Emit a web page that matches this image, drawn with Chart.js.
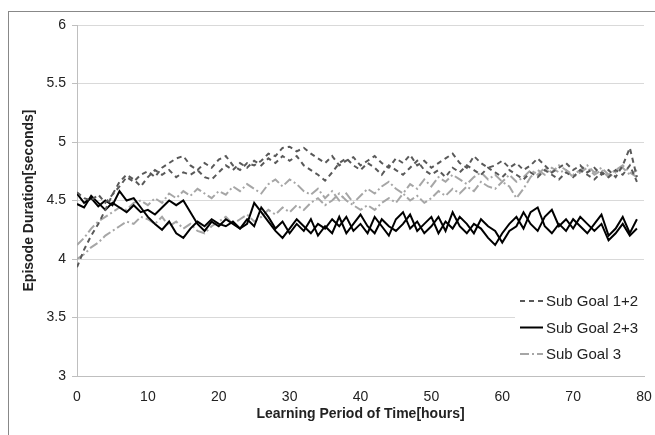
<!DOCTYPE html>
<html>
<head>
<meta charset="utf-8">
<script src="https://cdn.jsdelivr.net/npm/chart.js@4.4.0/dist/chart.umd.min.js"></script>
<style>
  html, body { margin: 0; padding: 0; background: #fff; }
  #frame { position: absolute; left: 8px; top: 11px; width: 700px; height: 500px;
           border-left: 1px solid #888; border-top: 1px solid #888; }
  #wrap { position: absolute; left: 0; top: 0; width: 655px; height: 435px; }
</style>
</head>
<body>
<div id="frame"></div>
<div id="wrap"><canvas id="grafico" width="655" height="435"></canvas></div>
<script>
// Horas de aprendizagem (eixo x)
const horas = [0,1,2,3,4,5,6,7,8,9,10,11,12,13,14,15,16,17,18,19,
  20,21,22,23,24,25,26,27,28,29,30,31,32,33,34,35,36,37,38,39,
  40,41,42,43,44,45,46,47,48,49,50,51,52,53,54,55,56,57,58,59,
  60,61,62,63,64,65,66,67,68,69,70,71,72,73,74,75,76,77,78,79];

const xTicks = [0, 10, 20, 30, 40, 50, 60, 70, 80];
const yTicks = [3, 3.5, 4, 4.5, 5, 5.5, 6];

// Sub Goal 1+2 (duas execuções)
const sg12a = [4.57,4.52,4.50,4.55,4.48,4.55,4.62,4.70,4.66,4.72,
  4.75,4.70,4.78,4.82,4.86,4.88,4.80,4.76,4.82,4.78,
  4.85,4.88,4.80,4.76,4.82,4.80,4.84,4.90,4.88,4.95,
  4.96,4.92,4.95,4.90,4.86,4.82,4.88,4.80,4.84,4.87,
  4.80,4.84,4.88,4.82,4.78,4.86,4.82,4.89,4.80,4.84,
  4.78,4.82,4.86,4.90,4.82,4.78,4.88,4.82,4.78,4.80,
  4.84,4.78,4.82,4.76,4.80,4.86,4.80,4.74,4.78,4.82,
  4.76,4.80,4.74,4.78,4.72,4.76,4.70,4.80,4.95,4.70];
const sg12b = [3.93,4.08,4.20,4.30,4.42,4.55,4.66,4.72,4.68,4.62,
  4.70,4.76,4.72,4.76,4.70,4.74,4.72,4.76,4.70,4.68,
  4.74,4.80,4.76,4.82,4.78,4.84,4.80,4.86,4.82,4.88,
  4.84,4.88,4.80,4.76,4.72,4.67,4.74,4.82,4.86,4.80,
  4.76,4.82,4.78,4.72,4.80,4.76,4.72,4.78,4.84,4.76,
  4.72,4.76,4.70,4.78,4.74,4.80,4.76,4.72,4.78,4.74,
  4.70,4.76,4.72,4.68,4.74,4.70,4.76,4.72,4.68,4.74,
  4.70,4.76,4.72,4.68,4.74,4.70,4.76,4.72,4.80,4.66];

// Sub Goal 2+3
const sg23a = [4.56,4.48,4.52,4.45,4.50,4.46,4.58,4.50,4.52,4.44,
  4.36,4.30,4.25,4.32,4.22,4.18,4.26,4.32,4.28,4.34,
  4.30,4.28,4.32,4.26,4.30,4.48,4.40,4.32,4.24,4.18,
  4.26,4.34,4.28,4.22,4.30,4.26,4.34,4.28,4.36,4.24,
  4.30,4.22,4.36,4.28,4.20,4.34,4.40,4.26,4.32,4.22,
  4.28,4.36,4.24,4.40,4.28,4.22,4.30,4.26,4.18,4.12,
  4.22,4.30,4.36,4.26,4.40,4.44,4.28,4.22,4.30,4.24,
  4.34,4.28,4.22,4.30,4.38,4.20,4.26,4.36,4.22,4.34];
const sg23b = [4.47,4.44,4.54,4.48,4.42,4.48,4.44,4.40,4.46,4.40,
  4.42,4.38,4.44,4.50,4.46,4.50,4.40,4.30,4.24,4.32,
  4.28,4.34,4.30,4.26,4.34,4.28,4.44,4.36,4.26,4.32,
  4.22,4.30,4.24,4.34,4.20,4.28,4.22,4.36,4.22,4.30,
  4.38,4.28,4.22,4.34,4.28,4.24,4.30,4.38,4.24,4.30,
  4.36,4.22,4.32,4.26,4.36,4.30,4.22,4.34,4.28,4.24,
  4.14,4.24,4.28,4.40,4.30,4.24,4.36,4.42,4.28,4.34,
  4.26,4.36,4.30,4.24,4.30,4.16,4.22,4.30,4.20,4.26];

// Sub Goal 3
const sg3a = [4.12,4.18,4.26,4.32,4.36,4.40,4.44,4.42,4.48,4.50,
  4.46,4.52,4.48,4.56,4.52,4.58,4.54,4.60,4.56,4.52,
  4.58,4.55,4.62,4.58,4.64,4.60,4.56,4.64,4.68,4.62,
  4.68,4.64,4.58,4.55,4.60,4.52,4.58,4.50,4.56,4.48,
  4.54,4.60,4.56,4.62,4.66,4.60,4.56,4.64,4.60,4.68,
  4.62,4.70,4.66,4.72,4.68,4.64,4.70,4.74,4.68,4.72,
  4.66,4.62,4.52,4.60,4.70,4.76,4.72,4.78,4.74,4.76,
  4.70,4.74,4.78,4.72,4.76,4.70,4.74,4.78,4.72,4.76];
const sg3b = [4.00,4.04,4.10,4.14,4.20,4.24,4.28,4.32,4.30,4.36,
  4.34,4.30,4.36,4.28,4.32,4.26,4.30,4.24,4.22,4.28,
  4.32,4.36,4.30,4.34,4.38,4.32,4.36,4.42,4.38,4.44,
  4.40,4.46,4.42,4.48,4.52,4.46,4.50,4.56,4.50,4.46,
  4.42,4.46,4.42,4.48,4.52,4.48,4.56,4.50,4.54,4.48,
  4.52,4.58,4.54,4.60,4.56,4.62,4.58,4.66,4.62,4.60,
  4.66,4.72,4.66,4.70,4.76,4.72,4.78,4.74,4.80,4.76,
  4.72,4.76,4.80,4.74,4.78,4.72,4.76,4.80,4.74,4.70];

const estilos = {
  'Sub Goal 1+2': { color: '#595959', dash: [5, 4] },
  'Sub Goal 2+3': { color: '#000000', dash: [] },
  'Sub Goal 3':   { color: '#a6a6a6', dash: [9, 3, 2, 3] }
};

function serie(label, valores, noLegend) {
  const e = estilos[label];
  return {
    label: label,
    data: horas.map((h, i) => ({ x: h, y: valores[i] })),
    borderColor: e.color,
    borderDash: e.dash,
    borderWidth: 2,
    pointRadius: 0,
    tension: 0,
    fill: false,
    noLegend: noLegend
  };
}

// legenda desenhada dentro da área do gráfico
const legendaInterna = {
  id: 'legendaInterna',
  afterDraw(chart) {
    const ctx = chart.ctx;
    const itens = chart.data.datasets.filter(d => !d.noLegend);
    const x0 = 515, y0 = 286, w = 129, h = 82;
    ctx.save();
    ctx.fillStyle = '#fff';
    ctx.fillRect(x0, y0, w, h);
    ctx.font = '15px "Liberation Sans", Arial, sans-serif';
    ctx.textBaseline = 'middle';
    itens.forEach((d, i) => {
      const y = 301 + i * 26.5;
      ctx.beginPath();
      ctx.strokeStyle = d.borderColor;
      ctx.lineWidth = 2;
      ctx.setLineDash(d.borderDash);
      ctx.moveTo(520, y);
      ctx.lineTo(543, y);
      ctx.stroke();
      ctx.setLineDash([]);
      ctx.fillStyle = '#222';
      ctx.fillText(d.label, 546, y + 1);
    });
    ctx.restore();
  }
};

const fonte = '"Liberation Sans", Arial';

document.addEventListener('DOMContentLoaded', () => {
  const ctx = document.getElementById('grafico').getContext('2d');
  new Chart(ctx, {
    type: 'line',
    data: {
      datasets: [
        serie('Sub Goal 1+2', sg12a, false),
        serie('Sub Goal 1+2', sg12b, true),
        serie('Sub Goal 2+3', sg23a, false),
        serie('Sub Goal 2+3', sg23b, true),
        serie('Sub Goal 3', sg3a, false),
        serie('Sub Goal 3', sg3b, true)
      ]
    },
    options: {
      responsive: false,
      animation: false,
      layout: { padding: { left: 21, right: 11, top: 25, bottom: 0 } },
      plugins: { legend: { display: false }, tooltip: { enabled: false } },
      scales: {
        x: {
          type: 'linear', min: 0, max: 80,
          afterBuildTicks: s => { s.ticks = xTicks.map(v => ({ value: v })); },
          afterFit: s => { s.height = 59; s.paddingRight = 0; s.paddingLeft = 0; },
          grid: { display: false, drawTicks: true, tickLength: 5, tickColor: '#bfbfbf' },
          border: { color: '#bfbfbf', width: 1 },
          ticks: { color: '#222', font: { size: 14, family: fonte }, padding: 8, maxRotation: 0,
                   callback: v => String(v) },
          title: { display: true, text: 'Learning Period of Time[hours]', color: '#222',
                   font: { size: 14, weight: 'bold', family: fonte }, padding: { top: 0, bottom: 12 } }
        },
        y: {
          min: 3, max: 6,
          afterBuildTicks: s => { s.ticks = yTicks.map(v => ({ value: v })); },
          afterFit: s => { s.width = 56; },
          grid: { color: '#d9d9d9', tickLength: 5, tickColor: '#bfbfbf' },
          border: { color: '#bfbfbf', width: 1 },
          ticks: { color: '#222', font: { size: 14, family: fonte }, padding: 6,
                   callback: v => String(v) },
          title: { display: true, text: 'Episode Duration[seconds]', color: '#222',
                   font: { size: 14, weight: 'bold', family: fonte }, padding: { top: 0, bottom: 0 } }
        }
      }
    },
    plugins: [legendaInterna]
  });
});
</script>
</body>
</html>
